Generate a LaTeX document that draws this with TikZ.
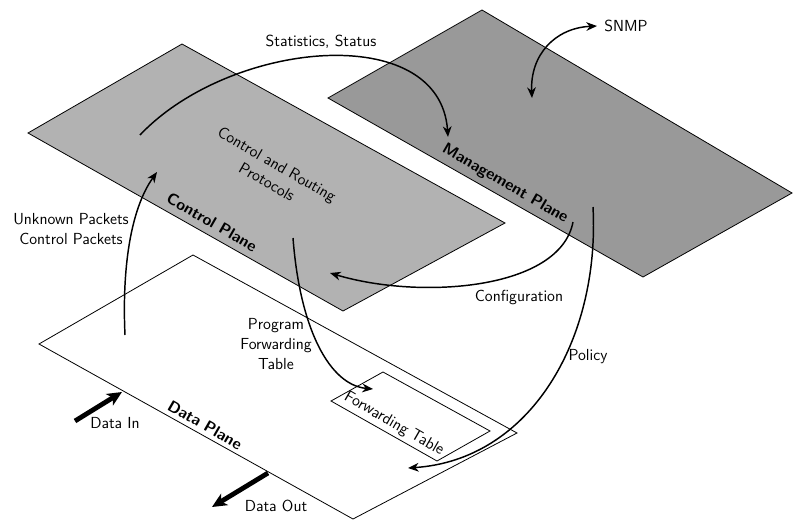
\documentclass[tikz,border=0pt]{standalone}
\usepackage{tikz}
\usetikzlibrary{arrows,arrows.meta,positioning}

\begin{document}
\begin{tikzpicture}[x=0.75pt,y=-0.75pt,>={Stealth[length=8pt,width=6.5pt,inset=2.5pt]},font=\sffamily\fontsize{12}{15}\selectfont]
       \tikzstyle{plane}=[draw=black,line width=0.6pt]
       \tikzstyle{flow}=[->,line width=1.1pt]
       \tikzstyle{bulk}=[-{Stealth[length=11pt,width=10pt,inset=3pt]},line width=3.6pt]
       \tikzstyle{tilted}=[rotate=-30,inner sep=1pt,align=center]

       \useasboundingbox (0,0) rectangle (793,521);

       % the three planes
       \filldraw[plane,fill=black!30] (182,44) -- (28,133) -- (343,311) -- (505,223) -- cycle;
       \filldraw[plane,fill=black!40] (482,10) -- (328,98) -- (643,277) -- (792,193) -- cycle;
       \draw[plane] (193,255) -- (39,344) -- (353,519) -- (517,433) -- cycle;
       \draw[plane] (383,372) -- (331,401) -- (437,461) -- (490,431) -- cycle;

       \node[tilted] (cp_proto) at (272,173) {Control and Routing\\Protocols};
       \node[tilted] (cp) at (212,222) {\bfseries Control Plane};
       \node[tilted] (mp) at (505,184) {\bfseries Management Plane};
       \node[tilted] (dp) at (205,425) {\bfseries Data Plane};
       \node[tilted] (fib) at (394,424) {Forwarding Table};

       \coordinate (stat_s) at (140,135);
       \coordinate (stat_e) at (448,137);
       \coordinate (snmp_s) at (532,98);
       \coordinate (snmp_e) at (597,26);
       \coordinate (conf_s) at (573,222);
       \coordinate (conf_e) at (330,273);
       \coordinate (pol_s) at (593,207);
       \coordinate (pol_e) at (408,468);
       \coordinate (prog_s) at (293,238);
       \coordinate (prog_e) at (373,389);
       \coordinate (punt_s) at (125,335);
       \coordinate (punt_e) at (157,172);
       \coordinate (in_s) at (75,421);
       \coordinate (in_e) at (122,392);
       \coordinate (out_s) at (268,473);
       \coordinate (out_e) at (212,507);

       \draw[flow] (stat_s) .. controls (230,40) and (440,20) .. (stat_e);
       \draw[flow,<->] (snmp_s) .. controls (530,55) and (555,28) .. (snmp_e);
       \draw[flow] (conf_s) .. controls (560,290) and (420,300) .. (conf_e);
       \draw[flow] (pol_s) .. controls (600,340) and (530,460) .. (pol_e);
       \draw[flow] (prog_s) .. controls (300,330) and (330,385) .. (prog_e);
       \draw[flow] (punt_s) .. controls (122,270) and (130,210) .. (punt_e);
       \draw[bulk] (in_s) -- (in_e);
       \draw[bulk] (out_s) -- (out_e);

       \node (stat) at (321,42) {Statistics, Status};
       \node[right=2pt of snmp_e] (snmp) {SNMP};
       \node (conf) at (519,297) {Configuration};
       \node (pol) at (588,357) {Policy};
       \node[align=center] (prog) at (276,344) {Program\\Forwarding\\Table};
       \node[align=center] (punt) at (71,229) {Unknown Packets\\Control Packets};
       \node (din) at (115,423) {Data In};
       \node (dout) at (276,506) {Data Out};
     \end{tikzpicture}
\end{document}
